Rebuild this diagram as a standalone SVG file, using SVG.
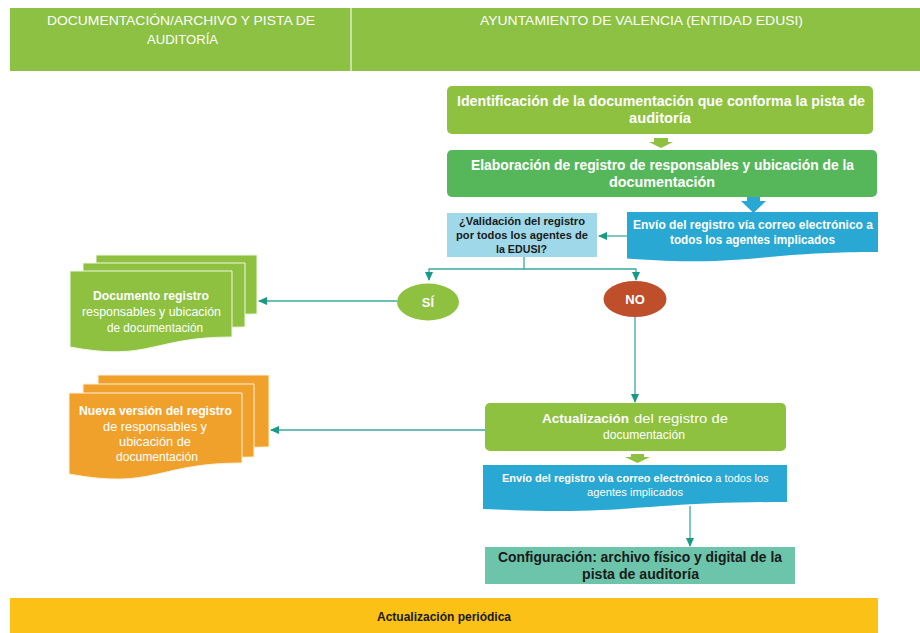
<svg xmlns="http://www.w3.org/2000/svg" width="920" height="633" viewBox="0 0 920 633">
<defs>
<style>
text{font-family:"Liberation Sans","Open Sans",Arial,sans-serif;}
.w{fill:#ffffff;}
.k{fill:#1a1a1a;}
.b{font-weight:bold;}
.n{font-weight:normal;}
.con{fill:none;stroke:#3ba9a0;stroke-width:1.3;marker-end:url(#ah);}
</style>
<marker id="ah" markerUnits="userSpaceOnUse" markerWidth="9" markerHeight="8" refX="8" refY="4" orient="auto">
<path d="M0,0 L9,4 L0,8 Z" fill="#179a86"/>
</marker>
</defs>
<rect width="920" height="633" fill="#ffffff"/>

<g id="header">
<rect x="10" y="8" width="910" height="63" fill="#8cc143"/>
<line x1="351" y1="8" x2="351" y2="71" stroke="#dcebc8" stroke-width="1.5"/>
<text class="w n" x="47" y="25" font-size="13" textLength="268" lengthAdjust="spacingAndGlyphs">DOCUMENTACIÓN/ARCHIVO Y PISTA DE</text>
<text class="w n" x="147" y="44" font-size="13" textLength="71" lengthAdjust="spacingAndGlyphs">AUDITORÍA</text>
<text class="w n" x="480" y="25" font-size="13" textLength="323" lengthAdjust="spacingAndGlyphs">AYUNTAMIENTO DE VALENCIA (ENTIDAD EDUSI)</text>
</g>

<g id="connectors">
<path class="con" d="M627,236 H599"/>
<path class="con" d="M524,257 V269 H429 V280"/>
<path class="con" d="M524,269 H636 V280"/>
<path class="con" d="M397,301 H259"/>
<path class="con" d="M635,317 V402"/>
<path class="con" d="M485,430 H271"/>
<path class="con" d="M690,506 V546"/>
<polygon points="654,138 668,138 668,142 673,142 661,148 649,142 654,142" fill="#8dc13f"/>
<polygon points="747,187 760,187 760,201 766,201 753.5,213 741,201 747,201" fill="#28a8d2"/>
<polygon points="631,454 644,454 644,457 650,457 637.5,463 625,457 631,457" fill="#8dc13f"/>
</g>

<g id="identificacion">
<rect x="447" y="86" width="426" height="48" rx="5" fill="#8dc13f"/>
<text class="w b" x="457" y="106" font-size="14" textLength="408" lengthAdjust="spacingAndGlyphs">Identificación de la documentación que conforma la pista de</text>
<text class="w b" x="629" y="123" font-size="14" textLength="62" lengthAdjust="spacingAndGlyphs">auditoría</text>
</g>

<g id="elaboracion">
<rect x="447" y="150" width="430" height="47" rx="5" fill="#55b75a"/>
<text class="w b" x="471" y="170" font-size="14" textLength="383" lengthAdjust="spacingAndGlyphs">Elaboración de registro de responsables y ubicación de la</text>
<text class="w b" x="609" y="187" font-size="14" textLength="106" lengthAdjust="spacingAndGlyphs">documentación</text>
</g>

<g id="envio1">
<path d="M627,212 H878 V252 C752.5,252 752.5,267.5 627,258.5 Z" fill="#28a8d2"/>
<text class="w b" x="633" y="229" font-size="12.5" textLength="240" lengthAdjust="spacingAndGlyphs">Envío del registro vía correo electrónico a</text>
<text class="w b" x="670" y="244" font-size="12.5" textLength="165" lengthAdjust="spacingAndGlyphs">todos los agentes implicados</text>
</g>

<g id="validacion">
<rect x="447" y="213" width="150" height="44" fill="#9fd8e8"/>
<text class="k b" x="459" y="225" font-size="11.5" textLength="126" lengthAdjust="spacingAndGlyphs">¿Validación del registro</text>
<text class="k b" x="456" y="239" font-size="11.5" textLength="132" lengthAdjust="spacingAndGlyphs">por todos los agentes de</text>
<text class="k b" x="496" y="253" font-size="11.5" textLength="51" lengthAdjust="spacingAndGlyphs">la EDUSI?</text>
</g>

<g id="si">
<ellipse cx="428" cy="302" rx="31" ry="18.5" fill="#8dc13f"/>
<text class="w b" x="428" y="307" font-size="13" text-anchor="middle">SÍ</text>
</g>

<g id="no">
<ellipse cx="635" cy="299" rx="31.5" ry="18" fill="#bf4e2a"/>
<text class="w b" x="635" y="304" font-size="13" text-anchor="middle">NO</text>
</g>

<g id="documento-registro">
<path d="M96,255 H257 V314 C176.5,314 176.5,337 96,324 Z" fill="#8dc13f" stroke="#f3f8ea" stroke-width="1"/>
<path d="M83,263 H245 V327 C164,327 164,352 83,338 Z" fill="#8dc13f" stroke="#f3f8ea" stroke-width="1"/>
<path d="M70,271 H232 V337 C151,337 151,362 70,347 Z" fill="#8dc13f" stroke="#f3f8ea" stroke-width="1"/>
<text class="w b" x="93" y="300" font-size="12.5" textLength="116" lengthAdjust="spacingAndGlyphs">Documento registro</text>
<text class="w n" x="82" y="316" font-size="12.5" textLength="139" lengthAdjust="spacingAndGlyphs">responsables y ubicación</text>
<text class="w n" x="107" y="332" font-size="12.5" textLength="96" lengthAdjust="spacingAndGlyphs">de documentación</text>
</g>

<g id="nueva-version">
<path d="M98,375 H269 V447 C183.5,447 183.5,475 98,459 Z" fill="#f0a12c" stroke="#fdf1dc" stroke-width="1"/>
<path d="M83,384 H254 V457 C168.5,457 168.5,485 83,469 Z" fill="#f0a12c" stroke="#fdf1dc" stroke-width="1"/>
<path d="M69,393 H242 V463 C155.5,463 155.5,490 69,474 Z" fill="#f0a12c" stroke="#fdf1dc" stroke-width="1"/>
<text class="w b" x="79" y="415" font-size="12.5" textLength="153" lengthAdjust="spacingAndGlyphs">Nueva versión del registro</text>
<text class="w n" x="103" y="431" font-size="12.5" textLength="104" lengthAdjust="spacingAndGlyphs">de responsables y</text>
<text class="w n" x="119" y="446" font-size="12.5" textLength="72" lengthAdjust="spacingAndGlyphs">ubicación de</text>
<text class="w n" x="116" y="461" font-size="12.5" textLength="82" lengthAdjust="spacingAndGlyphs">documentación</text>
</g>

<g id="actualizacion">
<rect x="485" y="403" width="301" height="48" rx="5" fill="#8dc13f"/>
<text class="w b" x="542" y="423" font-size="13.5" textLength="87" lengthAdjust="spacingAndGlyphs">Actualización</text>
<text class="w n" x="634" y="423" font-size="13.5" textLength="94" lengthAdjust="spacingAndGlyphs">del registro de</text>
<text class="w n" x="603" y="439" font-size="13.5" textLength="82" lengthAdjust="spacingAndGlyphs">documentación</text>
</g>

<g id="envio2">
<path d="M483,465 H787 V502 C635,502 635,516 483,509 Z" fill="#28a8d2"/>
<text class="w" x="502" y="482" font-size="11"><tspan class="b">Envío del registro vía correo electrónico</tspan><tspan class="n"> a todos los</tspan></text>
<text class="w n" x="587" y="496" font-size="11.5" textLength="96" lengthAdjust="spacingAndGlyphs">agentes implicados</text>
</g>

<g id="configuracion">
<rect x="485" y="547" width="310" height="37" fill="#6cc5aa"/>
<text class="k b" x="498" y="562" font-size="14" textLength="284" lengthAdjust="spacingAndGlyphs">Configuración: archivo físico y digital de la</text>
<text class="k b" x="582" y="579" font-size="14" textLength="117" lengthAdjust="spacingAndGlyphs">pista de auditoría</text>
</g>

<g id="actualizacion-periodica">
<rect x="10" y="598" width="868" height="35" fill="#fbc116"/>
<text class="k b" x="377" y="621" font-size="12" textLength="134" lengthAdjust="spacingAndGlyphs">Actualización periódica</text>
</g>
</svg>
